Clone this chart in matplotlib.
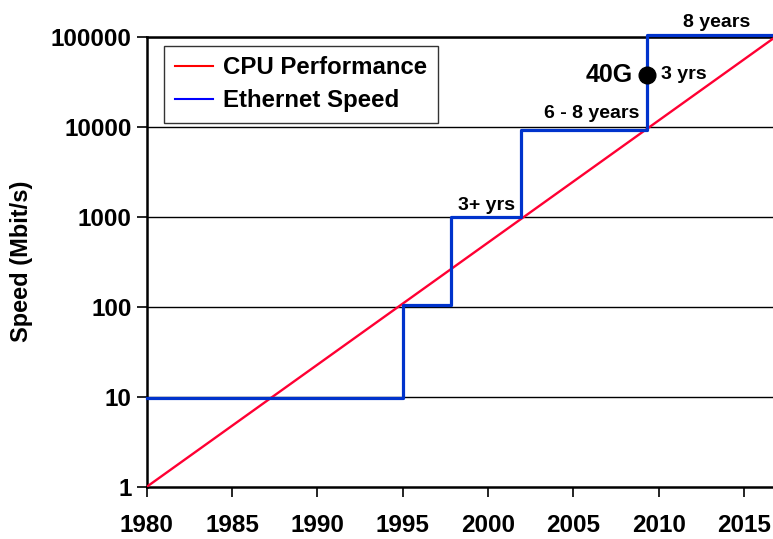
import matplotlib.pyplot as plt
from matplotlib.lines import Line2D
from matplotlib.ticker import FixedLocator

# CPU performance trend (end points of the straight log line)
cpu_years = [1980, 2016.7]
cpu_speed = [1, 95000]

# Ethernet speed step line
eth_years = [1980, 1995, 1995, 1997.8, 1997.8, 2001.9, 2001.9, 2009.3, 2009.3, 2016.7]
eth_speed = [9.6, 9.6, 105, 105, 1000, 1000, 9200, 9200, 104000, 104000]

# 40G point
pt_year = [2009.3]
pt_speed = [37500]

x_ticks = [1980, 1985, 1990, 1995, 2000, 2005, 2010, 2015]
y_ticks = [1, 10, 100, 1000, 10000, 100000]

plt.rcParams['font.family'] = ['Liberation Sans', 'DejaVu Sans']
plt.rcParams['font.weight'] = 'bold'

fig = plt.figure(figsize=(7.73, 5.39), dpi=100)
ax = fig.add_axes([0.19, 0.097, 0.81, 0.835])

ax.set_yscale('log')
ax.set_xlim(1980, 2016.7)
ax.set_ylim(1, 100000)

for y in y_ticks[1:]:
    ax.axhline(y, color='black', lw=1.0, zorder=1)

ax.plot(cpu_years, cpu_speed, color='#ff0033', lw=1.7, zorder=3)
ax.plot(eth_years, eth_speed, color='#0033cc', lw=2.3, zorder=4, clip_on=False)
ax.plot(pt_year, pt_speed, 'o', color='black', ms=12, zorder=5)

ax.xaxis.set_major_locator(FixedLocator(x_ticks))
ax.yaxis.set_major_locator(FixedLocator(y_ticks))
ax.yaxis.set_minor_locator(FixedLocator([]))
ax.set_xticklabels([str(v) for v in x_ticks])
ax.set_yticklabels([str(v) for v in y_ticks])
ax.tick_params(axis='both', direction='out', length=7, width=1.2, labelsize=17.5)
ax.tick_params(axis='x', pad=13)
ax.tick_params(axis='y', pad=4)

for side in ['left', 'bottom', 'top']:
    ax.spines[side].set_linewidth(1.8)
ax.spines['right'].set_visible(False)

ax.set_ylabel('Speed (Mbit/s)', fontsize=17, fontweight='bold', labelpad=13)

# annotations
ax.text(2013.4, 145000, '8 years', fontsize=14, ha='center', va='center', clip_on=False)
ax.text(2007.1, 37500, '40G', fontsize=18, ha='center', va='center')
ax.text(2011.5, 37500, '3 yrs', fontsize=14, ha='center', va='center')
ax.text(2006.1, 14000, '6 - 8 years', fontsize=14, ha='center', va='center')
ax.text(1999.9, 1330, '3+ yrs', fontsize=14, ha='center', va='center')

handles = [Line2D([], [], color='red', lw=1.5), Line2D([], [], color='blue', lw=1.5)]
leg = ax.legend(handles, ['CPU Performance', 'Ethernet Speed'], loc='upper left',
                bbox_to_anchor=(0.027, 0.98), fontsize=17.3, frameon=True, fancybox=False,
                edgecolor='black', handlelength=1.6, handletextpad=0.4,
                borderpad=0.45, labelspacing=0.4, borderaxespad=0)
leg.get_frame().set_linewidth(1.0)

fig.savefig('out.png', dpi=100)
